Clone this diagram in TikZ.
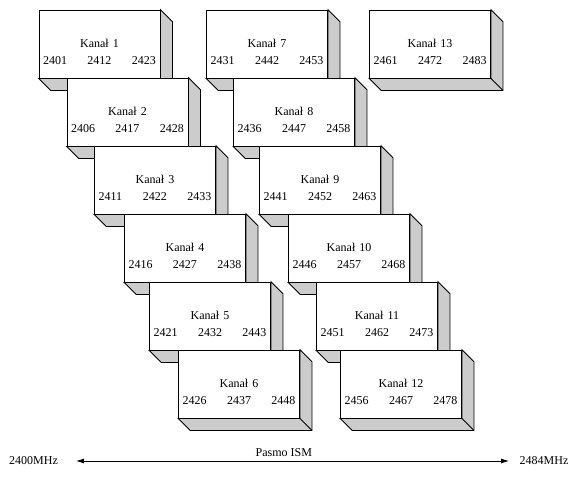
\documentclass[tikz,border=0pt]{standalone}
\usepackage{fontspec}
\setmainfont{Liberation Serif}
\usetikzlibrary{arrows.meta}
\colorlet{cien}{gray!40}

\begin{document}
\begin{tikzpicture}[x=1pt,y=-1pt,line width=0.8pt,
                    font=\fontsize{12pt}{14pt}\selectfont]
  \tikzstyle{kanal}=[draw=black,fill=white,minimum width=121pt,
                     minimum height=68pt,inner sep=0pt,
                     append after command={\pgfextra{
                       \filldraw[fill=cien] (\tikzlastnode.north east) -- ++(12,12)
                         -- ([shift={(12,12)}]\tikzlastnode.south east)
                         -- ([shift={(12,12)}]\tikzlastnode.south west)
                         -- (\tikzlastnode.south west) -- (\tikzlastnode.south east) -- cycle;
                       \draw (\tikzlastnode.south east) -- ++(12,12);}}]
  \tikzstyle{opis}=[text width=113pt,align=center,inner sep=0pt,yshift=-7.5pt]
  \tikzstyle{tip}=[Latex[length=8pt,width=5pt]]

  \useasboundingbox (0,0) rectangle (577,477);

  \node[kanal] (k1) at (99.5,44) {};
  \node[opis] at (k1) {Kanał 1\\[3pt]2401\hfill 2412\hfill 2423};
  \node[kanal] (k2) at (127.5,112) {};
  \node[opis] at (k2) {Kanał 2\\[3pt]2406\hfill 2417\hfill 2428};
  \node[kanal] (k3) at (155,180) {};
  \node[opis] at (k3) {Kanał 3\\[3pt]2411\hfill 2422\hfill 2433};
  \node[kanal] (k4) at (185,248) {};
  \node[opis] at (k4) {Kanał 4\\[3pt]2416\hfill 2427\hfill 2438};
  \node[kanal] (k5) at (210,316) {};
  \node[opis] at (k5) {Kanał 5\\[3pt]2421\hfill 2432\hfill 2443};
  \node[kanal] (k6) at (239,384) {};
  \node[opis] at (k6) {Kanał 6\\[3pt]2426\hfill 2437\hfill 2448};

  \node[kanal] (k7) at (267,44) {};
  \node[opis] at (k7) {Kanał 7\\[3pt]2431\hfill 2442\hfill 2453};
  \node[kanal] (k8) at (294,112) {};
  \node[opis] at (k8) {Kanał 8\\[3pt]2436\hfill 2447\hfill 2458};
  \node[kanal] (k9) at (320,180) {};
  \node[opis] at (k9) {Kanał 9\\[3pt]2441\hfill 2452\hfill 2463};
  \node[kanal] (k10) at (349,248) {};
  \node[opis] at (k10) {Kanał 10\\[3pt]2446\hfill 2457\hfill 2468};
  \node[kanal] (k11) at (377,316) {};
  \node[opis] at (k11) {Kanał 11\\[3pt]2451\hfill 2462\hfill 2473};
  \node[kanal] (k12) at (401,384) {};
  \node[opis] at (k12) {Kanał 12\\[3pt]2456\hfill 2467\hfill 2478};

  \node[kanal] (k13) at (430,44) {};
  \node[opis] at (k13) {Kanał 13\\[3pt]2461\hfill 2472\hfill 2483};

  % pasmo
  \node (f0) at (33.5,461) {2400MHz};
  \node (f1) at (544,461) {2484MHz};
  \coordinate (p0) at (76,461);
  \coordinate (p1) at (509,461);
  \draw[{Latex[length=8pt,width=5pt]}-{Latex[length=8pt,width=5pt]}]
    (p0) -- node[pos=0.48,above=1pt] {Pasmo ISM} (p1);
\end{tikzpicture}
\end{document}
